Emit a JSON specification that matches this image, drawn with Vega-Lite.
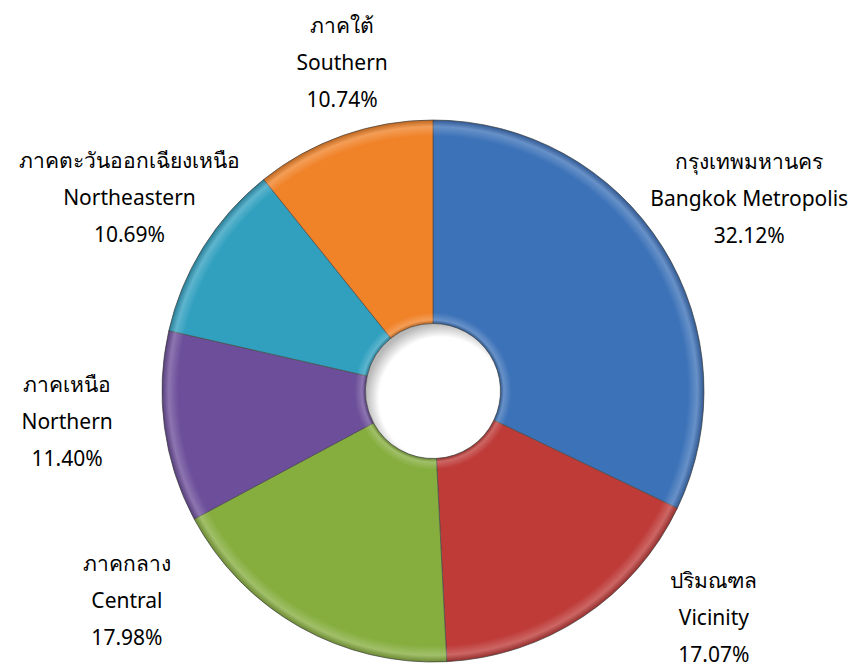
{
  "$schema": "https://vega.github.io/schema/vega-lite/v6.json",
  "width": 850,
  "height": 550,
  "autosize": {"type": "none"},
  "padding": {"left": 8, "top": 116, "right": 0, "bottom": 0},
  "background": "white",
  "config": {"view": {"stroke": null}},
  "data": {
    "values": [
      {"th": "กรุงเทพมหานคร", "en": "Bangkok Metropolis", "value": 32.12, "order": 1},
      {"th": "ปริมณฑล", "en": "Vicinity", "value": 17.07, "order": 2},
      {"th": "ภาคกลาง", "en": "Central", "value": 17.98, "order": 3},
      {"th": "ภาคเหนือ", "en": "Northern", "value": 11.40, "order": 4},
      {"th": "ภาคตะวันออกเฉียงเหนือ", "en": "Northeastern", "value": 10.69, "order": 5},
      {"th": "ภาคใต้", "en": "Southern", "value": 10.74, "order": 6}
    ]
  },
  "transform": [
    {"calculate": "datum.th + '\\n' + datum.en + '\\n' + format(datum.value, '.2f') + '%'", "as": "label"}
  ],
  "layer": [
    {
      "transform": [{"aggregate": [{"op": "count", "as": "n"}]}],
      "mark": {
        "type": "arc", "theta": 0, "theta2": 6.2832, "outerRadius": 67.5, "innerRadius": 0,
        "fill": {"gradient": "radial", "x1": 0.56, "y1": 0.56, "r1": 0, "x2": 0.56, "y2": 0.56, "r2": 0.56,
          "stops": [{"offset": 0, "color": "#ffffff"}, {"offset": 0.82, "color": "#ffffff"}, {"offset": 1, "color": "#b8b8b8"}]}
      },
      "encoding": {}
    },
    {
      "mark": {"type": "arc", "outerRadius": 271, "innerRadius": 67.5, "stroke": "#4a4a4a", "strokeWidth": 0.7},
      "encoding": {
        "theta": {"field": "value", "type": "quantitative", "stack": true},
        "order": {"field": "order", "type": "quantitative"},
        "color": {
          "field": "en",
          "type": "nominal",
          "scale": {
            "domain": ["Bangkok Metropolis", "Vicinity", "Central", "Northern", "Northeastern", "Southern"],
            "range": ["#3C72B8", "#BE3B38", "#86AE3F", "#6C4E9A", "#31A0BF", "#F08228"]
          },
          "legend": null
        }
      }
    },
    {
      "transform": [{"aggregate": [{"op": "count", "as": "n"}]}],
      "mark": {
        "type": "arc", "theta": 0, "theta2": 6.2832, "outerRadius": 271, "innerRadius": 67.5,
        "fill": {"gradient": "radial", "x1": 0.5, "y1": 0.5, "r1": 0, "x2": 0.5, "y2": 0.5, "r2": 0.5,
          "stops": [
            {"offset": 0.249, "color": "rgba(0,0,0,0.25)"},
            {"offset": 0.262, "color": "rgba(255,255,255,0.22)"},
            {"offset": 0.29, "color": "rgba(255,255,255,0)"},
            {"offset": 0.94, "color": "rgba(255,255,255,0)"},
            {"offset": 0.975, "color": "rgba(255,255,255,0.22)"},
            {"offset": 1, "color": "rgba(0,0,0,0.22)"}
          ]}
      },
      "encoding": {}
    },
    {
      "mark": {"type": "text", "radius": 350, "dx": 20, "dy": -42, "fontSize": 21, "font": "Noto Sans", "lineHeight": 37, "lineBreak": "\n", "align": "center", "baseline": "middle", "color": "#000000"},
      "encoding": {
        "theta": {"field": "value", "type": "quantitative", "stack": true},
        "order": {"field": "order", "type": "quantitative"},
        "text": {"condition": {"test": "datum.en === 'Bangkok Metropolis'", "field": "label"}, "value": ""}
      }
    },
    {
      "mark": {"type": "text", "radius": 350, "dx": 87, "dy": -100, "fontSize": 21, "font": "Noto Sans", "lineHeight": 37, "lineBreak": "\n", "align": "center", "baseline": "middle", "color": "#000000"},
      "encoding": {
        "theta": {"field": "value", "type": "quantitative", "stack": true},
        "order": {"field": "order", "type": "quantitative"},
        "text": {"condition": {"test": "datum.en === 'Vicinity'", "field": "label"}, "value": ""}
      }
    },
    {
      "mark": {"type": "text", "radius": 350, "dx": -134, "dy": -131, "fontSize": 21, "font": "Noto Sans", "lineHeight": 37, "lineBreak": "\n", "align": "center", "baseline": "middle", "color": "#000000"},
      "encoding": {
        "theta": {"field": "value", "type": "quantitative", "stack": true},
        "order": {"field": "order", "type": "quantitative"},
        "text": {"condition": {"test": "datum.en === 'Central'", "field": "label"}, "value": ""}
      }
    },
    {
      "mark": {"type": "text", "radius": 350, "dx": -19, "dy": -52, "fontSize": 21, "font": "Noto Sans", "lineHeight": 37, "lineBreak": "\n", "align": "center", "baseline": "middle", "color": "#000000"},
      "encoding": {
        "theta": {"field": "value", "type": "quantitative", "stack": true},
        "order": {"field": "order", "type": "quantitative"},
        "text": {"condition": {"test": "datum.en === 'Northern'", "field": "label"}, "value": ""}
      }
    },
    {
      "mark": {"type": "text", "radius": 350, "dx": -7, "dy": -43, "fontSize": 21, "font": "Noto Sans", "lineHeight": 37, "lineBreak": "\n", "align": "center", "baseline": "middle", "color": "#000000"},
      "encoding": {
        "theta": {"field": "value", "type": "quantitative", "stack": true},
        "order": {"field": "order", "type": "quantitative"},
        "text": {"condition": {"test": "datum.en === 'Northeastern'", "field": "label"}, "value": ""}
      }
    },
    {
      "mark": {"type": "text", "radius": 350, "dx": 25, "dy": -34, "fontSize": 21, "font": "Noto Sans", "lineHeight": 37, "lineBreak": "\n", "align": "center", "baseline": "middle", "color": "#000000"},
      "encoding": {
        "theta": {"field": "value", "type": "quantitative", "stack": true},
        "order": {"field": "order", "type": "quantitative"},
        "text": {"condition": {"test": "datum.en === 'Southern'", "field": "label"}, "value": ""}
      }
    }
  ]
}
